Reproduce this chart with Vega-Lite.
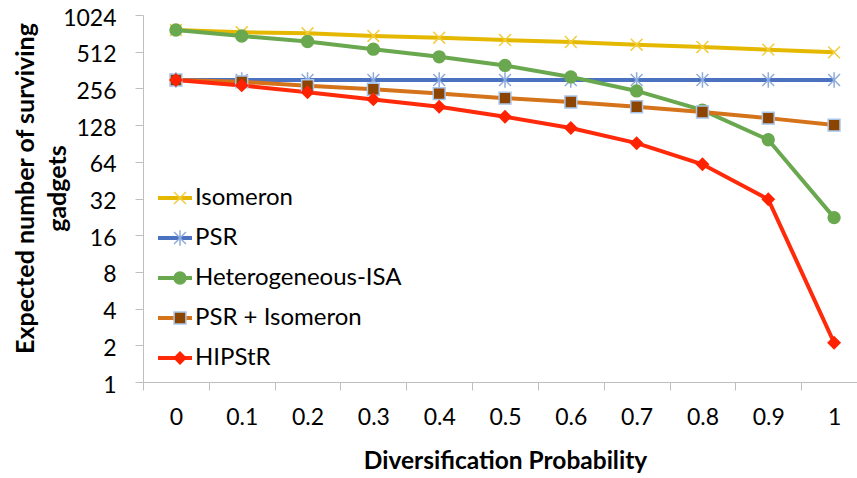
{
  "$schema": "https://vega.github.io/schema/vega-lite/v6.json",
  "width": 714,
  "height": 367,
  "autosize": "none",
  "padding": {"left": 143, "top": 15, "right": 0, "bottom": 96},
  "background": "white",
  "config": {"view": {"stroke": null}, "font": "Lato"},
  "data": {"values": [
    {"p": "0", "s": "Isomeron", "v": 771}, {"p": "0.1", "s": "Isomeron", "v": 739}, {"p": "0.2", "s": "Isomeron", "v": 725}, {"p": "0.3", "s": "Isomeron", "v": 689}, {"p": "0.4", "s": "Isomeron", "v": 667}, {"p": "0.5", "s": "Isomeron", "v": 638}, {"p": "0.6", "s": "Isomeron", "v": 615}, {"p": "0.7", "s": "Isomeron", "v": 584}, {"p": "0.8", "s": "Isomeron", "v": 560}, {"p": "0.9", "s": "Isomeron", "v": 532}, {"p": "1", "s": "Isomeron", "v": 506},
    {"p": "0", "s": "PSR", "v": 300}, {"p": "0.1", "s": "PSR", "v": 300}, {"p": "0.2", "s": "PSR", "v": 300}, {"p": "0.3", "s": "PSR", "v": 300}, {"p": "0.4", "s": "PSR", "v": 300}, {"p": "0.5", "s": "PSR", "v": 300}, {"p": "0.6", "s": "PSR", "v": 300}, {"p": "0.7", "s": "PSR", "v": 300}, {"p": "0.8", "s": "PSR", "v": 300}, {"p": "0.9", "s": "PSR", "v": 300}, {"p": "1", "s": "PSR", "v": 300},
    {"p": "0", "s": "Heterogeneous-ISA", "v": 771}, {"p": "0.1", "s": "Heterogeneous-ISA", "v": 689}, {"p": "0.2", "s": "Heterogeneous-ISA", "v": 621}, {"p": "0.3", "s": "Heterogeneous-ISA", "v": 537}, {"p": "0.4", "s": "Heterogeneous-ISA", "v": 465}, {"p": "0.5", "s": "Heterogeneous-ISA", "v": 395}, {"p": "0.6", "s": "Heterogeneous-ISA", "v": 318}, {"p": "0.7", "s": "Heterogeneous-ISA", "v": 244}, {"p": "0.8", "s": "Heterogeneous-ISA", "v": 170}, {"p": "0.9", "s": "Heterogeneous-ISA", "v": 97}, {"p": "1", "s": "Heterogeneous-ISA", "v": 22.3},
    {"p": "0", "s": "PSR + Isomeron", "v": 300}, {"p": "0.1", "s": "PSR + Isomeron", "v": 290}, {"p": "0.2", "s": "PSR + Isomeron", "v": 269}, {"p": "0.3", "s": "PSR + Isomeron", "v": 252}, {"p": "0.4", "s": "PSR + Isomeron", "v": 232}, {"p": "0.5", "s": "PSR + Isomeron", "v": 213}, {"p": "0.6", "s": "PSR + Isomeron", "v": 198}, {"p": "0.7", "s": "PSR + Isomeron", "v": 181}, {"p": "0.8", "s": "PSR + Isomeron", "v": 164}, {"p": "0.9", "s": "PSR + Isomeron", "v": 146}, {"p": "1", "s": "PSR + Isomeron", "v": 128},
    {"p": "0", "s": "HIPStR", "v": 300}, {"p": "0.1", "s": "HIPStR", "v": 271}, {"p": "0.2", "s": "HIPStR", "v": 238}, {"p": "0.3", "s": "HIPStR", "v": 208}, {"p": "0.4", "s": "HIPStR", "v": 181}, {"p": "0.5", "s": "HIPStR", "v": 150}, {"p": "0.6", "s": "HIPStR", "v": 121}, {"p": "0.7", "s": "HIPStR", "v": 91}, {"p": "0.8", "s": "HIPStR", "v": 61}, {"p": "0.9", "s": "HIPStR", "v": 31.5}, {"p": "1", "s": "HIPStR", "v": 2.1}
  ]},
  "encoding": {
    "x": {
      "field": "p", "type": "ordinal",
      "sort": ["0", "0.1", "0.2", "0.3", "0.4", "0.5", "0.6", "0.7", "0.8", "0.9", "1"],
      "scale": {"type": "band", "paddingInner": 0, "paddingOuter": 0, "range": [0, 724]},
      "axis": {
        "title": "Diversification Probability", "titleFontSize": 24.5, "titleFontWeight": "bold", "titleColor": "#000000", "titleY": 67,
        "labelFontSize": 23, "labelColor": "#000000", "labelAngle": 0, "labelPadding": 16,
        "tickBand": "extent", "tickSize": 8, "tickColor": "#BFBFBF", "domainColor": "#BFBFBF", "grid": false
      }
    },
    "y": {
      "field": "v", "type": "quantitative",
      "scale": {"type": "log", "base": 2, "domain": [1, 1024], "nice": false},
      "axis": {
        "title": ["Expected number of surviving", "gadgets"], "titleFontSize": 25, "titleFontWeight": "bold", "titleColor": "#000000", "titleLineHeight": 32, "titleX": -105, "titleY": 173,
        "values": [1, 2, 4, 8, 16, 32, 64, 128, 256, 512, 1024], "format": "d",
        "labelFontSize": 23, "labelColor": "#000000", "labelPadding": 19, "labelOffset": 3,
        "tickSize": 8, "tickColor": "#BFBFBF", "domainColor": "#BFBFBF", "grid": false
      }
    }
  },
  "layer": [
    {
      "mark": {"type": "line", "strokeWidth": 4},
      "encoding": {
        "color": {
          "field": "s", "type": "nominal",
          "scale": {"domain": ["Isomeron", "PSR", "Heterogeneous-ISA", "PSR + Isomeron", "HIPStR"], "range": ["#E5B800", "#4A72C0", "#6AA84F", "#D4731A", "#FF2A0A"]},
          "legend": {"orient": "none", "legendX": 13, "legendY": 169, "title": null, "symbolType": "stroke", "symbolSize": 1156, "symbolStrokeWidth": 4, "labelFontSize": 24, "labelColor": "#000000", "labelOffset": 1, "clipHeight": 28, "rowPadding": 12, "padding": 0, "labelLimit": 400}
        }
      }
    },
    {
      "mark": {"type": "point", "filled": true, "size": 140, "strokeWidth": 1.5, "opacity": 1},
      "encoding": {
        "shape": {
          "field": "s", "type": "nominal",
          "scale": {"domain": ["Isomeron", "PSR", "Heterogeneous-ISA", "PSR + Isomeron", "HIPStR"], "range": ["M-1,-1L1,1M-1,1L1,-1", "M-1,-1L1,1M-1,1L1,-1M0,-1.3L0,1.3", "circle", "square", "diamond"]},
          "legend": {"orient": "none", "legendX": 25, "legendY": 169, "title": null, "symbolSize": 140, "symbolStrokeWidth": 1.5, "labelFontSize": 24, "labelOpacity": 0, "labelExpr": "''", "clipHeight": 28, "rowPadding": 12, "padding": 0}
        },
        "fill": {
          "field": "s", "type": "nominal",
          "scale": {"domain": ["Isomeron", "PSR", "Heterogeneous-ISA", "PSR + Isomeron", "HIPStR"], "range": ["#F2CC3D", "#8FAADC", "#6AA84F", "#8B4500", "#FF2200"]},
          "legend": {"orient": "none", "legendX": 25, "legendY": 169, "title": null, "symbolSize": 140, "symbolStrokeWidth": 1.5, "labelFontSize": 24, "labelOpacity": 0, "labelExpr": "''", "clipHeight": 28, "rowPadding": 12, "padding": 0}
        },
        "stroke": {
          "field": "s", "type": "nominal",
          "scale": {"domain": ["Isomeron", "PSR", "Heterogeneous-ISA", "PSR + Isomeron", "HIPStR"], "range": ["#F2CC3D", "#8FAADC", "#6AA84F", "#A9C5EB", "#FF2200"]},
          "legend": {"orient": "none", "legendX": 25, "legendY": 169, "title": null, "symbolSize": 140, "symbolStrokeWidth": 1.5, "labelFontSize": 24, "labelOpacity": 0, "labelExpr": "''", "clipHeight": 28, "rowPadding": 12, "padding": 0}
        }
      }
    }
  ],
  "resolve": {"legend": {"color": "independent", "shape": "independent", "fill": "independent", "stroke": "independent"}}
}
